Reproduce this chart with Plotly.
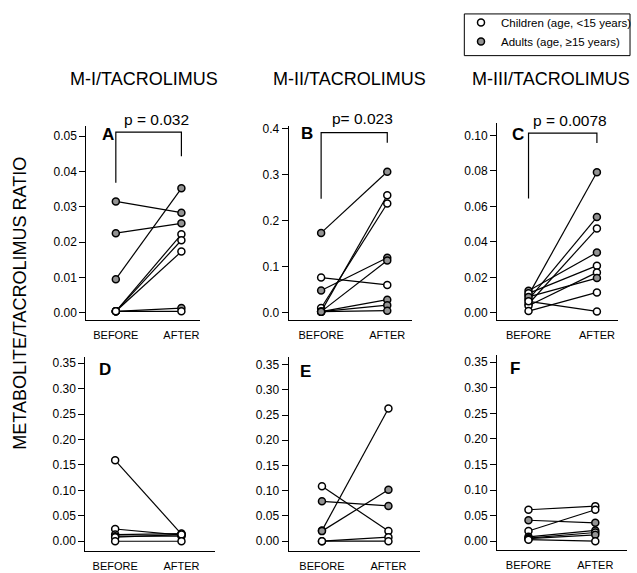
import plotly.graph_objects as go

X_LABELS = ["BEFORE", "AFTER"]
COL_TITLES = ["M-I/TACROLIMUS", "M-II/TACROLIMUS", "M-III/TACROLIMUS"]
Y_TITLE = "METABOLITE/TACROLIMUS RATIO"
LEGEND_NAMES = ["Children (age, <15 years)", "Adults (age, \u226515 years)"]

PANEL_LETTERS = ["A", "B", "C", "D", "E", "F"]
P_VALUES = ["p = 0.032", "p= 0.023", "p = 0.0078"]

# group: 1 = adult (grey), 0 = child (open)
A_before = [0.0315, 0.0225, 0.0095, 0.0004, 0.0004, 0.0004, 0.0004, 0.0004]
A_after = [0.0283, 0.0253, 0.0352, 0.0222, 0.0205, 0.0173, 0.0013, 0.0004]
A_adult = [1, 1, 1, 0, 0, 0, 1, 0]

B_before = [0.173, 0.076, 0.048, 0.010, 0.002, 0.002, 0.002, 0.002, 0.002]
B_after = [0.306, 0.060, 0.119, 0.237, 0.255, 0.113, 0.028, 0.016, 0.004]
B_adult = [1, 0, 1, 0, 0, 1, 1, 1, 1]

C_before = [0.010, 0.0075, 0.005, 0.0125, 0.011, 0.004, 0.009, 0.001, 0.0065]
C_after = [0.0792, 0.054, 0.0475, 0.034, 0.0266, 0.0228, 0.0196, 0.0115, 0.0008]
C_adult = [1, 1, 0, 1, 0, 0, 1, 0, 0]

D_before = [0.159, 0.024, 0.013, 0.010, 0.008, 0.0]
D_after = [0.014, 0.012, 0.015, 0.010, 0.013, 0.0]
D_adult = [0, 0, 0, 1, 0, 0]

E_before = [0.109, 0.079, 0.021, 0.020, 0.0, 0.0]
E_after = [0.020, 0.070, 0.263, 0.102, 0.008, 0.0]
E_adult = [0, 1, 0, 1, 0, 0]

F_before = [0.0615, 0.041, 0.020, 0.0085, 0.006, 0.005, 0.003]
F_after = [0.0686, 0.036, 0.0615, 0.021, 0.017, 0.0125, 0.0]
F_adult = [0, 1, 0, 1, 0, 1, 0]

DATA = [(A_before, A_after, A_adult), (B_before, B_after, B_adult), (C_before, C_after, C_adult),
        (D_before, D_after, D_adult), (E_before, E_after, E_adult), (F_before, F_after, F_adult)]

W, H = 637, 573
FONT = "Arial, Liberation Sans, Helvetica, sans-serif"
GREY = "#939393"

# layout: pixel boxes (left, right, top, bottom), x ranges, y ranges, ticks
BOXES = [(87, 202, 123, 318), (291, 415, 123, 318), (501, 623, 120, 318),
         (86, 217, 355, 551), (291, 423, 355, 551), (501, 632, 353, 550)]
XR = [(-0.45, 1.29), (-0.49, 1.37), (-0.46, 1.31), (-0.45, 1.51), (-0.5, 1.47), (-0.47, 1.475)]
YR = [(-0.002, 0.0528), (-0.0157, 0.405), (-0.0039, 0.1069),
      (-0.0195, 0.363), (-0.0197, 0.366), (-0.0175, 0.365)]
DT = [0.01, 0.1, 0.02, 0.05, 0.05, 0.05]
FMT = [".2f", ".1f", ".2f", ".2f", ".2f", ".2f"]
LETTER_POS = [(-0.12, 0.0505), (-0.22, 0.388), (-0.16, 0.1005), (-0.15, 0.338), (-0.24, 0.337), (-0.2, 0.337)]
BRACKETS = [(0.0368, 0.0511, 0.0443), (0.247, 0.391, 0.369), (0.0644, 0.1013, 0.0957)]
P_PIX = [(158, 116), (365, 115), (575, 117)]
TITLE_X = [145, 352, 555]

fig = go.Figure()
layout = dict(width=W, height=H, margin=dict(l=0, r=0, t=0, b=0),
              paper_bgcolor="white", plot_bgcolor="white",
              font=dict(family=FONT, color="black"))
annotations = []
shapes = []

for i, (bef, aft, adult) in enumerate(DATA):
    n = i + 1
    xa = "x" if n == 1 else f"x{n}"
    ya = "y" if n == 1 else f"y{n}"
    for b, a, g in zip(bef, aft, adult):
        fig.add_trace(go.Scatter(
            x=[0, 1], y=[b, a], mode="lines+markers", xaxis=xa, yaxis=ya,
            line=dict(color="black", width=1.2),
            marker=dict(size=7, color=GREY if g else "white", line=dict(color="black", width=1.5)),
            showlegend=False, hoverinfo="skip", cliponaxis=False))
    l, r, t, btm = BOXES[i]
    xkey = "xaxis" if n == 1 else f"xaxis{n}"
    ykey = "yaxis" if n == 1 else f"yaxis{n}"
    layout[xkey] = dict(domain=[l / W, r / W], anchor=ya, range=list(XR[i]),
                        tickvals=[0, 1], ticktext=X_LABELS, ticks="", showgrid=False,
                        ticklabelstandoff=5,
                        zeroline=False, showline=True, linecolor="black", linewidth=1.2,
                        tickfont=dict(size=11, family=FONT, color="black"), fixedrange=True)
    layout[ykey] = dict(domain=[1 - btm / H, 1 - t / H], anchor=xa, range=list(YR[i]),
                        dtick=DT[i], tick0=0, tickformat=FMT[i], ticks="outside", ticklen=6,
                        tickwidth=1.2, tickcolor="black", showgrid=False, zeroline=False,
                        showline=True, linecolor="black", linewidth=1.2,
                        tickfont=dict(size=12, family=FONT, color="black"), fixedrange=True)
    lx, ly = LETTER_POS[i]
    annotations.append(dict(x=lx, y=ly, xref=xa, yref=ya, text=f"<b>{PANEL_LETTERS[i]}</b>",
                            showarrow=False, font=dict(size=17, family=FONT, color="black")))
    if i < 3:
        y0, ytop, y1 = BRACKETS[i]
        shapes.append(dict(type="path", xref=xa, yref=ya,
                           path=f"M 0,{y0} L 0,{ytop} L 1,{ytop} L 1,{y1}",
                           line=dict(color="black", width=1.2)))
        px, py = P_PIX[i]
        annotations.append(dict(x=px / W, y=1 - py / H, xref="paper", yref="paper",
                                xanchor="center", yanchor="middle", text=P_VALUES[i], showarrow=False,
                                font=dict(size=15.5, family=FONT, color="black")))
        annotations.append(dict(x=TITLE_X[i] / W, y=1 - 76 / H, xref="paper", yref="paper",
                                xanchor="center", yanchor="middle",
                                text=COL_TITLES[i], showarrow=False,
                                font=dict(size=18, family=FONT, color="black")))

annotations.append(dict(x=20 / W, y=1 - 301 / H, xref="paper", yref="paper", text=Y_TITLE,
                        xanchor="center", yanchor="middle",
                        textangle=-90, showarrow=False, font=dict(size=18, family=FONT, color="black")))

# legend entries
for name, col in zip(LEGEND_NAMES, ["white", GREY]):
    fig.add_trace(go.Scatter(x=[None], y=[None], mode="markers", name=name,
                             marker=dict(size=7, color=col, line=dict(color="black", width=1.5))))

shapes.append(dict(type="rect", xref="paper", yref="paper", x0=468 / W, x1=635 / W,
                   y0=1 - 52 / H, y1=1 - 10 / H, line=dict(color="black", width=1)))

layout["legend"] = dict(x=465 / W, y=1 - 4 / H, xanchor="left", yanchor="top",
                        bgcolor="rgba(0,0,0,0)", borderwidth=0,
                        font=dict(size=11.5, family=FONT, color="black"), itemwidth=30)
layout["annotations"] = annotations
layout["shapes"] = shapes
fig.update_layout(**layout)
fig.write_html("out.html")
